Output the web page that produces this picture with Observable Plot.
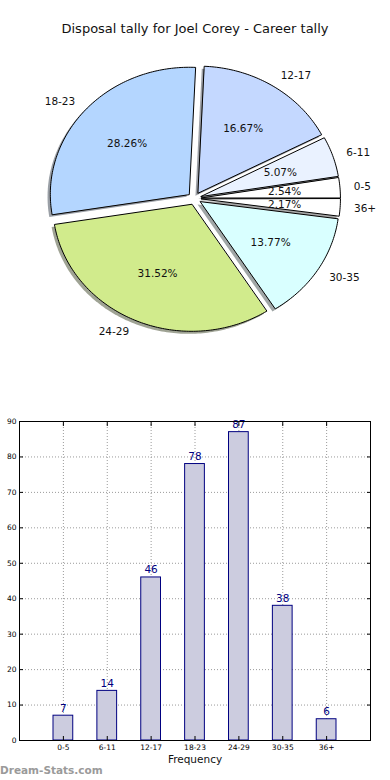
<!DOCTYPE html>
<html>
<head>
<meta charset="utf-8">
<script src="https://cdn.jsdelivr.net/npm/d3@7"></script>
<script src="https://cdn.jsdelivr.net/npm/@observablehq/plot@0.6"></script>
<style>
  html, body { margin: 0; padding: 0; background: #fff; }
  #root { position: relative; width: 390px; height: 780px; overflow: hidden; font-family: "DejaVu Sans", sans-serif; }
  .abs { position: absolute; }
  #title { top: 21px; left: 0; width: 390px; text-align: center; font-size: 13px; color: #111; }
  #xlabel { top: 753px; left: 0; width: 390px; text-align: center; font-size: 10.5px; color: #111; }
  #credit { top: 764px; left: 0; font-size: 10.5px; font-weight: bold; color: #9a9a9a; }
  #pie { top: 0; left: 0; }
  #bar { top: 410px; left: 0; }
  svg { overflow: visible; }
</style>
</head>
<body>
<div id="root">
  <div id="pie" class="abs"></div>
  <div id="bar" class="abs"></div>
  <div id="title" class="abs">Disposal tally for Joel Corey - Career tally</div>
  <div id="xlabel" class="abs">Frequency</div>
  <div id="credit" class="abs">Dream-Stats.com</div>
</div>
<script>
// ---- data ----
const categories = ["0-5", "6-11", "12-17", "18-23", "24-29", "30-35", "36+"];
const counts = [7, 14, 46, 78, 87, 38, 6];
const sliceColors = ["#ffffff", "#eaf2ff", "#c4d8ff", "#b4d6ff", "#d1eb8c", "#d9ffff", "#ffffff"];
const explode = [0.05, 0.05, 0.05, 0.05, 0.05, 0.05, 0.05];
const yTicks = [0, 10, 20, 30, 40, 50, 60, 70, 80, 90];

// ---- pie geometry (matplotlib-like) ----
const total = d3.sum(counts);
let acc = 0;
const slices = categories.map((label, i) => {
  const frac = counts[i] / total;
  const a0 = acc * 360;
  acc += frac;
  const a1 = acc * 360;
  const mid = (a0 + a1) / 2 * Math.PI / 180;
  const ex = explode[i] * Math.cos(mid), ey = explode[i] * Math.sin(mid);
  const n = Math.max(2, Math.ceil(a1 - a0));
  const pts = [{x: ex, y: ey}];
  for (let k = 0; k <= n; k++) {
    const t = (a0 + (a1 - a0) * k / n) * Math.PI / 180;
    pts.push({x: ex + Math.cos(t), y: ey + Math.sin(t)});
  }
  return {
    label, color: sliceColors[i], pts,
    pct: (frac * 100).toFixed(2) + "%",
    lx: ex + 1.1 * Math.cos(mid), ly: ey + 1.1 * Math.sin(mid),
    px: ex + 0.6 * Math.cos(mid), py: ey + 0.6 * Math.sin(mid)
  };
});

const shadowMarks = slices.map(s => {
  const c = d3.rgb(s.color);
  const dark = d3.rgb(c.r * 0.3, c.g * 0.3, c.b * 0.3).formatHex();
  return Plot.line(s.pts, {x: d => d.x - 0.02, y: d => d.y - 0.02, curve: "linear-closed", fill: dark, fillOpacity: 0.5, stroke: "none"});
});
const wedgeMarks = slices.map(s =>
  Plot.line(s.pts, {x: "x", y: "y", curve: "linear-closed", fill: s.color, stroke: "#000", strokeWidth: 1, strokeLinejoin: "miter"})
);

const pie = Plot.plot({
  width: 390, height: 370, margin: 0,
  x: {domain: [-194 / 139, 196 / 139], axis: null},
  y: {domain: [(198 - 370) / 127, 198 / 127], axis: null},
  style: {background: "transparent", fontFamily: "DejaVu Sans", fontSize: "10.5px", color: "#111", overflow: "visible"},
  marks: [
    ...shadowMarks,
    ...wedgeMarks,
    Plot.text(slices.filter(s => s.lx > 0), {x: "lx", y: "ly", text: "label", textAnchor: "start", fill: "#111"}),
    Plot.text(slices.filter(s => s.lx <= 0), {x: "lx", y: "ly", text: "label", textAnchor: "end", fill: "#111"}),
    Plot.text(slices, {x: "px", y: "py", text: "pct", textAnchor: "middle", fill: "#111"})
  ]
});
document.getElementById("pie").append(pie);

// ---- bar chart ----
const barData = categories.map((c, i) => ({i, c, v: counts[i]}));
const idx = d3.range(categories.length);
const bar = Plot.plot({
  width: 390, height: 360,
  marginLeft: 19, marginRight: 20, marginTop: 11, marginBottom: 30,
  x: {domain: [-1, 7], axis: null},
  y: {domain: [0, 90], axis: null},
  style: {background: "transparent", fontFamily: "DejaVu Sans", fontSize: "7.5px", color: "#000", overflow: "visible"},
  marks: [
    Plot.gridX(idx, {stroke: "#9a9a9a", strokeOpacity: 1, strokeDasharray: "1,2"}),
    Plot.gridY(yTicks, {stroke: "#9a9a9a", strokeOpacity: 1, strokeDasharray: "1,2"}),
    Plot.rectY(barData, {x1: d => d.i - 0.225, x2: d => d.i + 0.225, y: "v", fill: "#ccccdf", stroke: "#000080", strokeWidth: 1}),
    Plot.text(barData, {x: "i", y: "v", text: d => String(d.v), dy: -4, lineAnchor: "bottom", fill: "#000080", fontSize: 10.5}),
    Plot.frame({stroke: "#000", strokeWidth: 1}),
    Plot.axisY(yTicks, {anchor: "left", tickSize: -4, tickPadding: 7, label: null, fontSize: 7.5}),
    Plot.axisY(yTicks, {anchor: "right", tickSize: -4, tickFormat: () => "", label: null}),
    Plot.axisX(idx, {anchor: "bottom", tickSize: -4, tickPadding: 8, tickFormat: i => categories[i], label: null, fontSize: 7.5}),
    Plot.axisX(idx, {anchor: "top", tickSize: -4, tickFormat: () => "", label: null})
  ]
});
document.getElementById("bar").append(bar);
</script>
</body>
</html>
